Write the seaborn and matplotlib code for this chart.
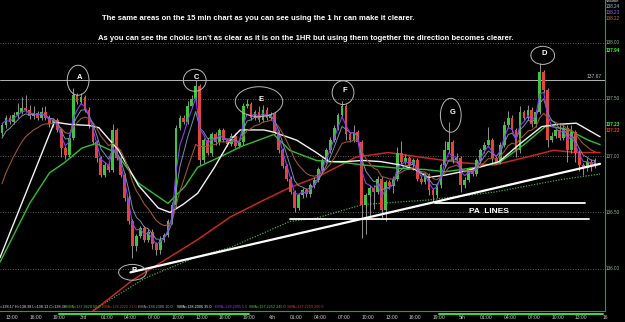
import numpy as np
import pandas as pd
import matplotlib
matplotlib.use("Agg")
import matplotlib.pyplot as plt
import seaborn as sns
from matplotlib.patches import Ellipse

# ---------------- data ----------------
first_open = 137.20
closes = [
    137.27, 137.34, 137.30, 137.36, 137.39, 137.42, 137.41, 137.35, 137.38, 137.34,
    137.39, 137.34, 137.28, 137.32, 137.23, 137.07, 137.01, 137.16, 137.54, 137.48,
    137.52, 137.41, 137.27, 137.12, 136.98, 136.83, 136.92, 136.88, 137.23, 136.98,
    136.83, 136.63, 136.42, 136.20, 136.29, 136.36, 136.26, 136.33, 136.22, 136.17,
    136.26, 136.30, 136.42, 136.57, 137.25, 137.34, 137.30, 137.44, 137.50, 137.62,
    136.96, 137.14, 137.03, 137.19, 137.12, 137.23, 137.14, 137.11, 137.18, 137.09,
    137.12, 137.44, 137.46, 137.34, 137.39, 137.32, 137.41, 137.34, 137.37, 137.21,
    137.05, 136.91, 136.80, 136.68, 136.54, 136.65, 136.70, 136.66, 136.74, 136.79,
    136.88, 136.96, 137.05, 137.14, 137.25, 137.36, 137.44, 137.19, 137.14, 137.21,
    137.12, 136.57, 136.65, 136.72, 136.68, 136.80, 136.52, 136.77, 136.73, 136.80,
    137.03, 136.95, 136.98, 136.92, 136.96, 136.80, 136.77, 136.83, 136.70, 136.65,
    136.74, 136.92, 137.05, 137.12, 136.96, 136.98, 136.74, 136.79, 136.88, 136.84,
    136.96, 137.05, 137.10, 137.14, 136.98, 136.95, 137.10, 137.27, 137.34, 137.23,
    137.05, 137.39, 137.34, 137.41, 137.28, 137.39, 137.74, 137.58, 137.14, 137.18,
    137.23, 137.16, 137.25, 137.05, 137.21, 137.03, 136.92, 136.89, 136.95, 136.91,
    136.96,
]
# wick lengths beyond the body, in hundredths
wick_hi = [
    2, 2, 2, 3, 8, 10, 12, 4, 6, 2,
    4, 5, 2, 2, 2, 2, 2, 3, 6, 2,
    4, 2, 2, 2, 2, 2, 3, 2, 5, 2,
    2, 2, 2, 2, 2, 2, 2, 2, 2, 2,
    3, 2, 2, 2, 2, 2, 2, 5, 4, 5,
    2, 2, 2, 2, 2, 2, 2, 2, 2, 2,
    2, 3, 4, 2, 2, 5, 4, 2, 2, 2,
    2, 2, 2, 2, 2, 2, 2, 2, 2, 2,
    2, 2, 2, 3, 2, 2, 5, 2, 2, 6,
    2, 2, 2, 2, 2, 2, 2, 2, 2, 2,
    5, 10, 4, 2, 2, 2, 2, 2, 2, 2,
    2, 2, 8, 18, 2, 5, 2, 2, 2, 2,
    2, 2, 2, 12, 2, 2, 2, 4, 6, 2,
    2, 5, 2, 4, 2, 2, 8, 2, 2, 3,
    2, 6, 2, 2, 6, 2, 2, 2, 3, 2,
    2,
]
wick_lo = [
    2, 2, 2, 2, 2, 2, 2, 2, 2, 2,
    2, 2, 2, 2, 2, 8, 4, 2, 2, 2,
    2, 2, 2, 2, 3, 2, 2, 2, 2, 2,
    2, 3, 2, 10, 4, 2, 2, 2, 4, 5,
    4, 2, 2, 2, 2, 2, 2, 2, 2, 2,
    4, 2, 2, 3, 2, 2, 2, 2, 2, 2,
    2, 2, 2, 2, 2, 2, 2, 2, 2, 2,
    2, 2, 2, 2, 4, 2, 2, 2, 2, 2,
    2, 2, 2, 2, 2, 2, 2, 5, 2, 2,
    2, 30, 26, 20, 15, 2, 8, 10, 2, 6,
    2, 2, 2, 2, 4, 2, 2, 2, 5, 6,
    2, 2, 2, 2, 2, 2, 6, 2, 2, 2,
    2, 2, 2, 2, 4, 2, 2, 2, 2, 2,
    6, 2, 2, 2, 2, 2, 2, 2, 6, 2,
    2, 2, 2, 10, 2, 8, 5, 6, 2, 4,
    2,
]

# slow moving averages, read as knots (bar index, price)
sma35_x = [-0.5, 13.25, 17, 22, 24.5, 29.5, 34.5, 39.5, 42.5, 45.75, 49.5, 53.75, 57.75,
           60.25, 66.25, 68.75, 74.5, 79.5, 82.75, 87, 91.25, 95.75, 100.75, 104.5,
           107.75, 112, 116.25, 120.75, 125.75, 130.75, 136.5, 140.75, 145.25, 148.25, 151.25]
sma35_y = [136.10, 137.30, 137.28, 137.27, 137.25, 137.05, 136.74, 136.54, 136.50, 136.57,
           136.67, 136.90, 137.14, 137.23, 137.23, 137.21, 137.14, 137.03, 136.95, 136.95,
           136.96, 136.95, 136.92, 136.88, 136.81, 136.83, 136.86, 136.90, 136.95, 137.10,
           137.26, 137.28, 137.29, 137.23, 137.17]
ema50_x = [-0.5, 7, 12, 15.75, 20.25, 23.75, 28.75, 34.5, 42, 46.25, 49.5, 56.25, 60.25,
           68.75, 72.75, 79.5, 87, 91.25, 100.75, 107, 112, 118.25, 125.75, 132, 137.75,
           143.25, 148.25, 151.25]
ema50_y = [136.06, 136.58, 136.85, 136.94, 137.07, 137.11, 137.03, 136.76, 136.58, 136.73,
           136.90, 137.01, 137.08, 137.19, 137.05, 136.96, 136.94, 136.92, 136.89, 136.88,
           136.86, 136.89, 136.94, 137.10, 137.27, 137.23, 137.14, 137.10]
sma200_x = [19.5, 33, 41.25, 49.5, 57.75, 66.25, 72.75, 79.5, 85.75, 89.5, 97.75, 107.75,
            116.25, 124.5, 132.75, 139.5, 145.25, 151.25]
sma200_y = [135.53, 135.90, 136.08, 136.26, 136.46, 136.61, 136.72, 136.81, 136.92, 136.99,
            137.03, 136.98, 136.94, 136.92, 136.99, 137.05, 137.03, 137.03]
sma245_x = [18.25, 36.25, 49.5, 57.75, 66.25, 72.75, 79.5, 91.25, 107.75, 124.5, 141.25, 151.25]
sma245_y = [135.53, 135.92, 136.11, 136.19, 136.32, 136.42, 136.45, 136.57, 136.61, 136.68,
            136.79, 136.84]

# seeds of the fast EMAs
ema5_seed, ema10_seed, ema21_seed = 137.30, 137.10, 136.65

# drawn lines
trend_x = [32.5, 151.25]
trend_y = [135.97, 136.93]
pa_upper = (109.5, 147.5, 136.58)
pa_lower = (72.75, 148.5, 136.44)
level_line = 137.67
grid_levels = [138.00, 137.50, 137.00, 136.50, 136.00]

time_labels = ["13:00", "16:00", "19:00", "3rd", "01:00", "04:00", "07:00", "10:00", "13:00",
               "16:00", "19:00", "4th", "01:00", "04:00", "07:00", "10:00", "13:00", "16:00",
               "19:00", "5th", "01:00", "04:00", "07:00", "10:00", "13:00", "16"]
session_spans = [(14.5, 62.5), (110.5, 152)]

# circled areas: label, centre bar, centre price, width (bars), height (price)
areas = [("A", 19.25, 137.67, 5.5, 0.265), ("B", 33.0, 135.97, 7.0, 0.14),
         ("C", 48.75, 137.67, 5.75, 0.195), ("E", 65.0, 137.48, 12.0, 0.265),
         ("F", 86.25, 137.56, 5.5, 0.21), ("G", 113.5, 137.36, 5.25, 0.30),
         ("D", 136.75, 137.89, 6.0, 0.16)]

title1 = "The same areas on the 15 min chart as you can see using the 1 hr can make it clearer."
title2 = ("As you can see the choice isn't as clear as it is on the 1HR but using them "
          "together the direction becomes clearer.")

# ---------------- figure ----------------
sns.set_theme(style="dark", rc={"axes.facecolor": "black", "figure.facecolor": "black"})
FONT = ["Liberation Sans", "DejaVu Sans"]
plt.rcParams["font.family"] = FONT

W, H = 625, 322
fig = plt.figure(figsize=(W / 100, H / 100), dpi=100)
fig.patch.set_facecolor("black")
ax = fig.add_axes([0, 11 / H, 605 / W, 311 / H])
ax.set_facecolor("black")
ax.set_xlim(-0.5, 150.75)
ax.set_ylim(138.38 - 311 / 113, 138.38)

n = len(closes)
df = pd.DataFrame({"bar": np.arange(n), "close": closes})
df["open"] = [first_open] + closes[:-1]
df["high"] = df[["open", "close"]].max(axis=1) + np.array(wick_hi) / 100
df["low"] = df[["open", "close"]].min(axis=1) - np.array(wick_lo) / 100

# grid and level
for g in grid_levels:
    ax.axhline(g, color="#7a7a7a", lw=0.6, ls=(0, (1, 2)), zorder=1)
ax.axhline(level_line, color="#b5b5b5", lw=0.7, zorder=1)

# slow MAs
sns.lineplot(x=sma245_x, y=sma245_y, ax=ax, color="#3fae3f", lw=0.9, ls=(0, (1, 1.2)),
             estimator=None, sort=False, zorder=2)
sns.lineplot(x=sma200_x, y=sma200_y, ax=ax, color="#c8281e", lw=1.1, estimator=None,
             sort=False, zorder=2)

# candles
up = df["close"] >= df["open"]
ax.vlines(df["bar"], df["low"], df["high"], color="#a8a8a8", lw=0.6, zorder=3)
body = (df["close"] - df["open"]).abs().clip(lower=0.004)
ax.bar(df["bar"], body, bottom=df[["open", "close"]].min(axis=1), width=0.7,
       color=np.where(up, "#3ec43e", "#e5443c"), linewidth=0, zorder=3)

sns.lineplot(x=ema50_x, y=ema50_y, ax=ax, color="#2fc02f", lw=1.0, estimator=None,
             sort=False, zorder=4)
sns.lineplot(x=sma35_x, y=sma35_y, ax=ax, color="#f4f4f4", lw=1.0, estimator=None,
             sort=False, zorder=4)


def ema(seed, span):
    return pd.Series([seed] + closes).ewm(span=span, adjust=False).mean().iloc[1:].values


df["ema21"] = ema(ema21_seed, 11)
df["ema10"] = ema(ema10_seed, 5)
df["ema5"] = ema(ema5_seed, 3)
sns.lineplot(data=df, x="bar", y="ema21", ax=ax, color="#9a5530", lw=0.8, zorder=4)
sns.lineplot(data=df, x="bar", y="ema10", ax=ax, color="#6f93a8", lw=0.7, zorder=4)
sns.lineplot(data=df, x="bar", y="ema5", ax=ax, color="#8a3cf0", lw=0.8, zorder=5)

# trend line and PA lines
sns.lineplot(x=trend_x, y=trend_y, ax=ax, color="white", lw=1.6, estimator=None, zorder=6)
for x0, x1, lv in (pa_upper, pa_lower):
    ax.plot([x0, x1], [lv, lv], color="white", lw=1.3, zorder=6)
ax.text(123.25, 136.505, "PA  LINES", color="white", fontsize=6, fontweight="bold",
        ha="center", va="center", zorder=7)

# circled areas
for lab, cx, cy, w, h in areas:
    ax.add_patch(Ellipse((cx, cy), w, h, fill=False, ec="#b8b8b8", lw=0.7, zorder=7))
    ax.text(cx + 0.4, cy + 0.02, lab, color="white", fontsize=5.5, fontweight="bold",
            ha="center", va="center", zorder=8)

# axes styling
for s in ("top", "left"):
    ax.spines[s].set_visible(False)
for s in ("right", "bottom"):
    ax.spines[s].set_color("#2f9e2f")
    ax.spines[s].set_linewidth(0.8)
ax.set_yticks([])
ax.set_xticks([2.5 + 6 * k for k in range(len(time_labels))])
ax.set_xticklabels(time_labels, color="#c8c8c8", fontsize=3.6)
ax.tick_params(axis="x", length=0, pad=3)
ax.set_xlabel("")
ax.set_ylabel("")
for x0, x1 in session_spans:
    ax.plot([x0, x1], [-0.009, -0.009], transform=ax.get_xaxis_transform(), clip_on=False,
            color="#3ee03e", lw=1.4, zorder=9)


def ftext(px, py, s, **kw):
    fig.text(px / W, 1 - py / H, s, **kw)


# titles
ftext(258, 19, title1, color="white", fontsize=5.5, fontweight="bold", ha="center", va="center")
ftext(306, 38, title2, color="white", fontsize=5.5, fontweight="bold", ha="center", va="center")

# right price scale
for lv, py in zip(grid_levels, [43, 99, 156, 212, 269]):
    ftext(606, py, f"{lv:.2f}", color="#8fbf8f", fontsize=3.3, va="center")
ftext(606, 50, "137.94", color="#39ff39", fontsize=3.3, fontweight="bold", va="center")
ftext(606, 125, "137.23", color="#39ff39", fontsize=3.3, fontweight="bold", va="center")
ftext(606, 131, "137.22", color="#ff3030", fontsize=3.3, fontweight="bold", va="center")
ftext(606, 1.5, "Volume", color="#dddddd", fontsize=3.0, va="center")
ftext(606, 6, "138.24", color="#a9c0cc", fontsize=3.3, va="center")
ftext(606, 12, "138.23", color="#a060ff", fontsize=3.3, va="center")
ftext(606, 18, "138.22", color="#c0703c", fontsize=3.3, va="center")
ftext(602, 76, "137.67", color="#bdbdbd", fontsize=3.6, ha="right", va="center")

# data box row
legend_row = [(0, "=138.17 H=138.38 L=138.13 C=138.38", "#e0e0e0"),
              (66, "EMA=137.9420 50.0", "#39d039"), (102, "EMA=138.2225 21.0", "#a0522d"),
              (138, "EMA=138.2380 10.0", "#8ea8b8"), (177, "SMA=138.2006 35.0", "#f0f0f0"),
              (215, "EMA=138.2095 5.0", "#8a3cf0"), (249, "SMA=137.2252 245.0", "#39d039"),
              (287, "SMA=137.2259 200.0", "#e03030")]
for px, s, c in legend_row:
    ftext(px, 307, s, color=c, fontsize=2.7, va="center")

fig.savefig("out.png", dpi=100, facecolor="black")
